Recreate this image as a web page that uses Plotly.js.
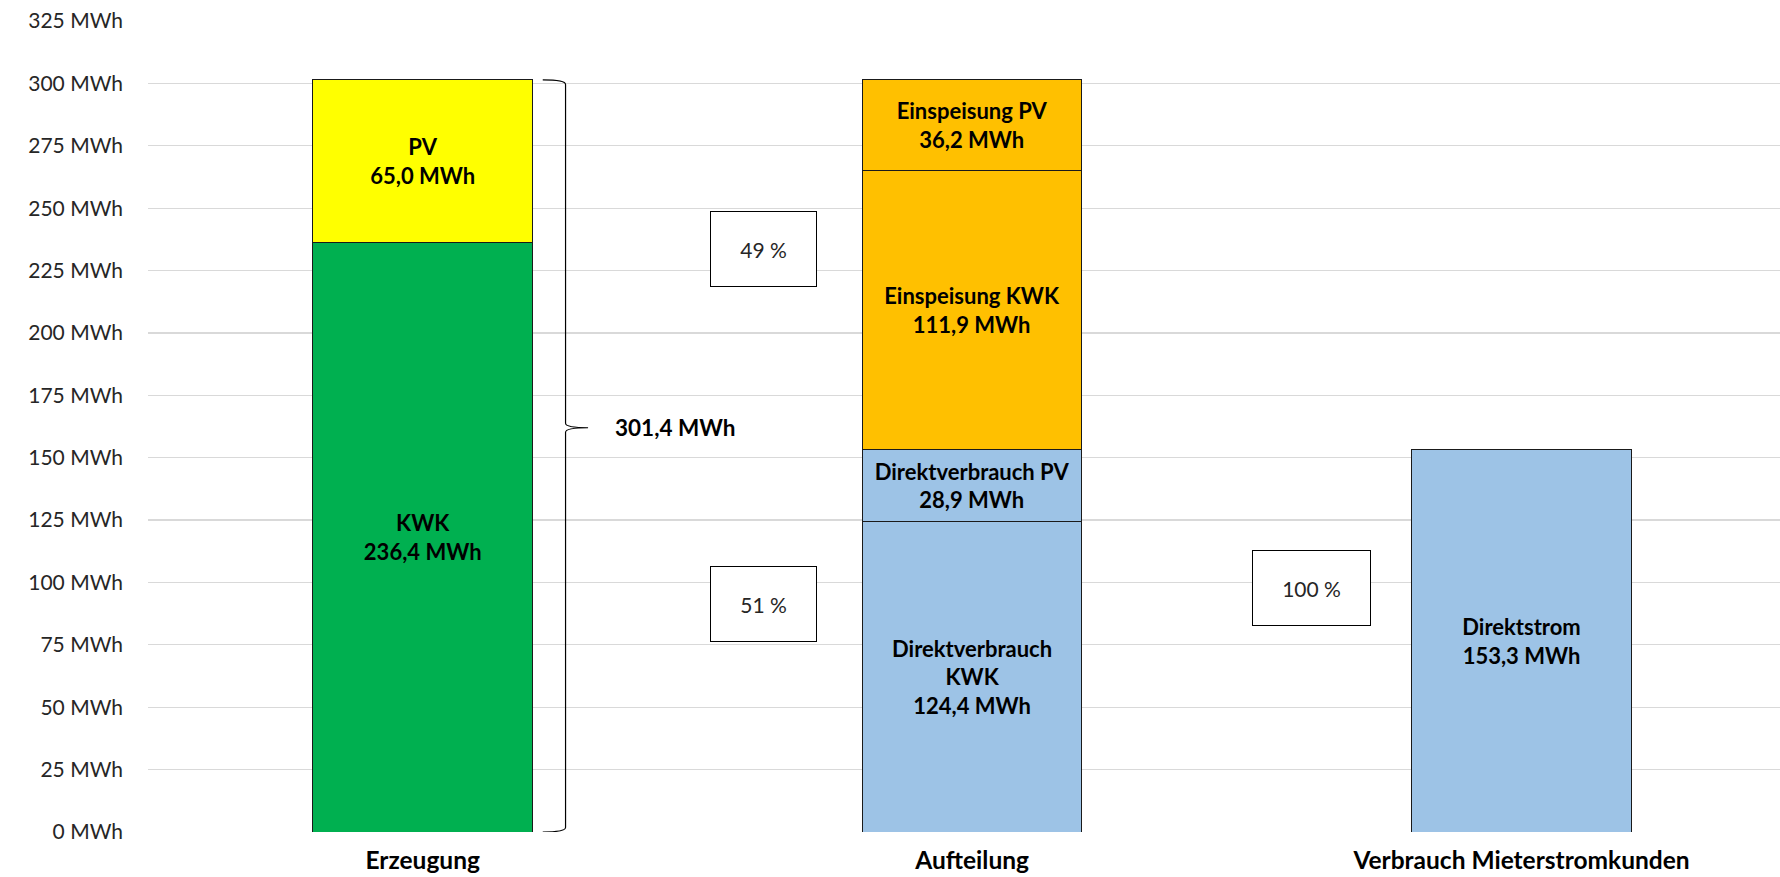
<!DOCTYPE html>
<html>
<head>
<meta charset="utf-8">
<script src="https://cdn.plot.ly/plotly-3.0.1.min.js"></script>
<style>html,body{margin:0;padding:0;background:#fff;overflow:hidden}#chart{width:1780px;height:877px}</style>
</head>
<body>
<div id="chart"></div>
<script>
// Categories (x axis)
const categories = ['Erzeugung', 'Aufteilung', 'Verbrauch Mieterstromkunden'];

// Stacked segments
const segLabels = ['KWK', 'PV', 'Direktverbrauch<br>KWK', 'Direktverbrauch PV', 'Einspeisung KWK', 'Einspeisung PV', 'Direktstrom'];
const segCategory = [0, 0, 1, 1, 1, 1, 2];
const segValues = [236.4, 65.0, 124.4, 28.9, 111.9, 36.2, 153.3];
const segColors = ['#00B050', '#FFFF00', '#9DC3E6', '#9DC3E6', '#FFC000', '#FFC000', '#9DC3E6'];

// Percentage boxes
const pctLabels = ['49 %', '51 %', '100 %'];
const pctX = [0.621, 0.621, 1.618];
const pctY = [233.8, 91.2, 97.6];
const pctW = [105, 105, 117];

// Y ticks
const yTickVals = [0, 25, 50, 75, 100, 125, 150, 175, 200, 225, 250, 275, 300, 325];
const yTickText = yTickVals.map(v => v + ' MWh');

const FONT = 'Lato, "Open Sans", sans-serif';
const fmt = v => v.toFixed(1).replace('.', ',');

const traces = segValues.map((v, i) => ({
  type: 'bar',
  x: [segCategory[i]],
  y: [v],
  width: 0.4,
  marker: {color: segColors[i], line: {color: '#1a1a1a', width: 1}},
  text: [segLabels[i] + '<br>' + fmt(v) + ' MWh'],
  textposition: 'inside',
  insidetextanchor: 'middle',
  textangle: 0,
  constraintext: 'none',
  textfont: {family: FONT, size: 22, color: '#000', weight: 'bold'},
  hoverinfo: 'skip',
  showlegend: false
}));

// Brace around Erzeugung total
const total = segValues[0] + segValues[1];
const braceTipY = 162;
const bx0 = 0.2185, bx1 = 0.26, bxt = 0.301;
const bracePath = 'M ' + bx0 + ',' + total +
  ' Q ' + bx1 + ',' + total + ' ' + bx1 + ',' + (total - 1.8) +
  ' L ' + bx1 + ',' + (braceTipY + 1.8) +
  ' Q ' + bx1 + ',' + braceTipY + ' ' + bxt + ',' + braceTipY +
  ' Q ' + bx1 + ',' + braceTipY + ' ' + bx1 + ',' + (braceTipY - 1.8) +
  ' L ' + bx1 + ',1.8' +
  ' Q ' + bx1 + ',0 ' + bx0 + ',0';

const annotations = pctLabels.map((t, i) => ({
  x: pctX[i], y: pctY[i], xref: 'x', yref: 'y',
  text: t, showarrow: false,
  width: pctW[i], height: 74,
  bordercolor: '#000', borderwidth: 1, borderpad: 0,
  bgcolor: '#fff',
  font: {family: FONT, size: 21, color: '#262626'}
}));
annotations.push({
  x: 0.459, y: braceTipY, xref: 'x', yref: 'y',
  text: fmt(total) + ' MWh', showarrow: false,
  font: {family: FONT, size: 22.5, color: '#000', weight: 'bold'}
});

const layout = {
  width: 1780, height: 877,
  margin: {l: 148, r: 0, t: 21, b: 45},
  paper_bgcolor: '#fff', plot_bgcolor: '#fff',
  barmode: 'stack',
  showlegend: false,
  separators: ',.',
  xaxis: {
    type: 'linear',
    range: [-0.5, 2.4705],
    tickvals: [0, 1, 2],
    ticktext: categories,
    showgrid: false, zeroline: false, showline: false,
    ticks: '', ticklabelstandoff: 11,
    tickfont: {family: FONT, size: 24.5, color: '#000', weight: 'bold'},
    fixedrange: true
  },
  yaxis: {
    range: [0, 325],
    tickvals: yTickVals,
    ticktext: yTickText,
    showgrid: true, gridcolor: '#D9D9D9', gridwidth: 1.3,
    zeroline: false, showline: false,
    ticks: '', ticklabelstandoff: 24,
    tickfont: {family: FONT, size: 21, color: '#262626'},
    fixedrange: true
  },
  shapes: [{
    type: 'path', xref: 'x', yref: 'y', path: bracePath,
    line: {color: '#000', width: 1.2}
  }],
  annotations: annotations
};

Plotly.newPlot('chart', traces, layout, {displayModeBar: false, staticPlot: true});
</script>
</body>
</html>
